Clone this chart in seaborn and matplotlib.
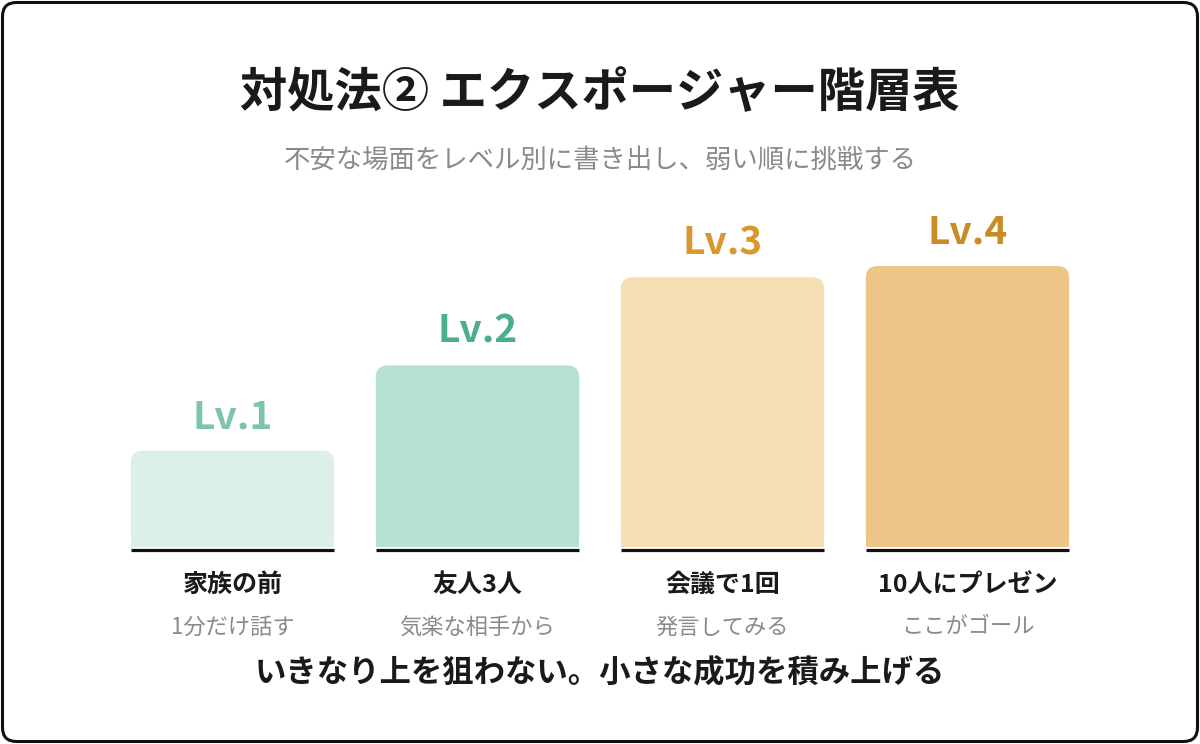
import matplotlib
matplotlib.use("Agg")
import matplotlib.pyplot as plt
import matplotlib.transforms as mtransforms
from matplotlib.patches import FancyBboxPatch, Rectangle
import pandas as pd
import seaborn as sns

levels = ["Lv.1", "Lv.2", "Lv.3", "Lv.4"]
scenes = ["家族の前", "友人3人", "会議で1回", "10人にプレゼン"]
notes = ["1分だけ話す", "気楽な相手から", "発言してみる", "ここがゴール"]
anxiety = [35, 65, 96, 100]
bar_colors = ["#DDF0E7", "#B5E2D0", "#F5DFB3", "#EDC589"]
label_colors = ["#7CC5A9", "#4CAF8B", "#D8982F", "#C98B27"]

title = "対処法② エクスポージャー階層表"
subtitle = "不安な場面をレベル別に書き出し、弱い順に挑戦する"
footer = "いきなり上を狙わない。小さな成功を積み上げる"

sns.set_theme(style="white")
plt.rcParams["font.family"] = ["Noto Sans CJK JP", "DejaVu Sans"]

W, H = 1200, 744
fig = plt.figure(figsize=(W / 100, H / 100), dpi=100)
fig.patch.set_facecolor("white")

# axes: x 110..1090 px, baseline at 550 px from top
ax_h = 330
ax = fig.add_axes([110 / W, (H - 550) / H, 980 / W, ax_h / H])
px_per_unit = 284 / 100
ymax = ax_h / px_per_unit

df = pd.DataFrame({"level": levels, "anxiety": anxiety})
sns.barplot(data=df, x="level", y="anxiety", hue="level", palette=bar_colors,
            width=0.83, legend=False, ax=ax, saturation=1)
ax.set_xlim(-0.5, 3.5)
ax.set_ylim(0, ymax)
ax.axis("off")

gap = 3 / px_per_unit
r = 12 / 245  # rounding in x units
aspect = 245 / px_per_unit
for i, p in enumerate(list(ax.patches)):
    x, w, h = p.get_x(), p.get_width(), p.get_height()
    c = p.get_facecolor()
    p.set_visible(False)
    ax.add_patch(FancyBboxPatch((x, gap), w, h - gap,
                                boxstyle=f"round,pad=0,rounding_size={r}",
                                mutation_aspect=aspect, fc=c, ec="none"))
    ax.add_patch(Rectangle((x, gap), w, (h - gap) / 2, fc=c, ec="none"))
    ax.plot([x, x + w], [0, 0], color="#111111", lw=2.3,
            solid_capstyle="butt", clip_on=False)
    ax.annotate(levels[i], (x + w / 2, h), xytext=(0, 24.5),
                textcoords="offset points", ha="center", va="center",
                fontsize=28, fontweight="bold", color=label_colors[i])

blend = mtransforms.blended_transform_factory(ax.transData, fig.transFigure)
for i in range(4):
    ax.text(i, 1 - 585 / H, scenes[i], transform=blend, ha="center",
            va="center", fontsize=18, fontweight="bold", color="#1a1a1a")
    ax.text(i, 1 - 627 / H, notes[i], transform=blend, ha="center",
            va="center", fontsize=16, color="#8a8a8a")

fig.text(0.5, 1 - 93 / H, title, ha="center", va="center", fontsize=34,
         fontweight="bold", color="#1a1a1a")
fig.text(0.5, 1 - 160 / H, subtitle, ha="center", va="center", fontsize=19,
         color="#8a8a8a")
fig.text(0.5, 1 - 673 / H, footer, ha="center", va="center", fontsize=22.6,
         fontweight="bold", color="#1a1a1a")

# outer card border
fig.add_artist(FancyBboxPatch((2.5 / W, 2.5 / H), 1 - 5 / W, 1 - 5 / H,
                              boxstyle=f"round,pad=0,rounding_size={14 / W}",
                              mutation_aspect=W / H, transform=fig.transFigure,
                              fc="none", ec="#111111", lw=2.2))

fig.savefig("out.png", dpi=100)
